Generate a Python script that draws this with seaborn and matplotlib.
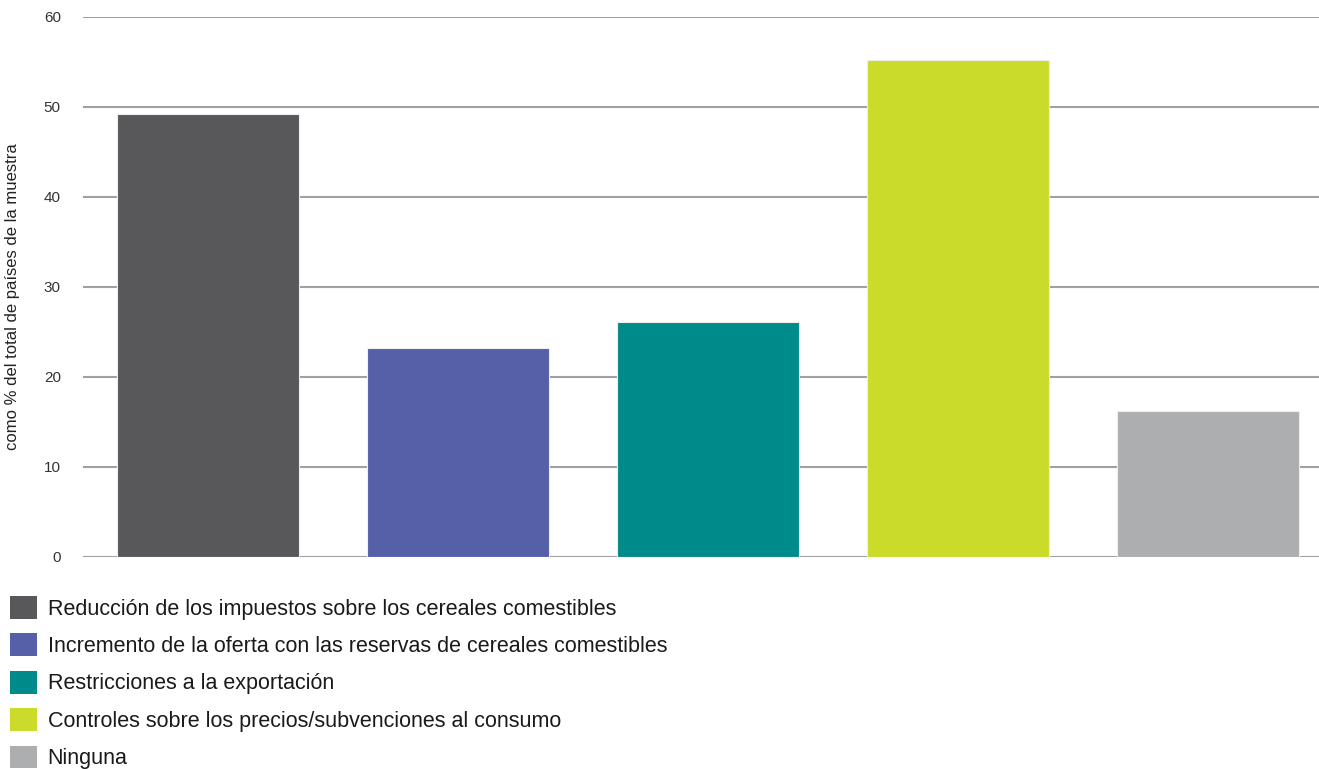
import matplotlib
matplotlib.use("Agg")
import matplotlib.pyplot as plt
from matplotlib.patches import Patch
import seaborn as sns
import pandas as pd
from matplotlib import font_manager

categories = [
    "Reducción de los impuestos sobre los cereales comestibles",
    "Incremento de la oferta con las reservas de cereales comestibles",
    "Restricciones a la exportación",
    "Controles sobre los precios/subvenciones al consumo",
    "Ninguna",
]
values = [49.2, 23.2, 26.1, 55.2, 16.2]
colors = ["#58585a", "#5560a8", "#008b8b", "#cbdb2a", "#adaeb0"]
yticks = [0, 10, 20, 30, 40, 50, 60]
ylabel = "como % del total de países de la muestra"

sns.set_style("white")
names = {f.name for f in font_manager.fontManager.ttflist}
fam = "Liberation Sans Narrow" if "Liberation Sans Narrow" in names else "Liberation Sans"
plt.rcParams["font.family"] = [fam, "DejaVu Sans"]

df = pd.DataFrame({"cat": categories, "val": values})

W, H = 1319, 769
fig = plt.figure(figsize=(W / 100, H / 100), dpi=100)
ax = fig.add_axes([83 / W, (H - 557) / H, (1319 - 83) / W, 540 / H])

sns.barplot(data=df, x="cat", y="val", hue="cat", palette=colors, dodge=False,
            width=0.728, legend=False, ax=ax, saturation=1, zorder=3,
            edgecolor="#eeeeee", linewidth=0.8)

ax.set_xlim(-0.5, (1319 - 208) / 250)
ax.set_ylim(0, 60)
ax.set_yticks(yticks)
ax.set_yticklabels([str(t) for t in yticks], fontsize=11, color="#333333")
ax.tick_params(axis="y", length=0, pad=16)
ax.set_xticks([])
ax.set_xlabel("")
ax.set_ylabel(ylabel, fontsize=12, color="#222222")
ax.yaxis.set_label_coords((20 - 83) / 1236, (557 - 297) / 540)
ax.yaxis.grid(True, color="#a0a0a2", linewidth=1.5, zorder=0)
ax.set_axisbelow(True)
for s in ax.spines.values():
    s.set_visible(False)

handles = [Patch(facecolor=c, edgecolor="none") for c in colors]
leg = fig.legend(handles, categories, loc="upper left", bbox_to_anchor=(10 / W, 1 - 596 / H),
                 frameon=False, fontsize=15.5, handlelength=1.25, handleheight=1.25,
                 handletextpad=0.5, labelspacing=0.64, borderaxespad=0, borderpad=0)
for t in leg.get_texts():
    t.set_color("#1a1a1a")

fig.savefig("out.png", dpi=100)
